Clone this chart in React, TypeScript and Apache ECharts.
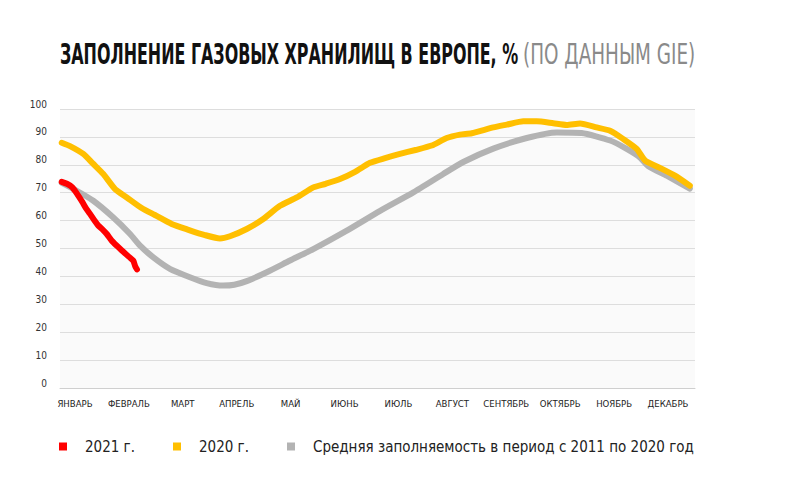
import React, { useEffect, useRef } from "react";
import * as echarts from "echarts";

const months = ["ЯНВАРЬ", "ФЕВРАЛЬ", "МАРТ", "АПРЕЛЬ", "МАЙ", "ИЮНЬ", "ИЮЛЬ", "АВГУСТ", "СЕНТЯБРЬ", "ОКТЯБРЬ", "НОЯБРЬ", "ДЕКАБРЬ"];
const seriesNames = ["2021 г.", "2020 г.", "Средняя заполняемость в период с 2011 по 2020 год"];
const titleMain = "ЗАПОЛНЕНИЕ ГАЗОВЫХ ХРАНИЛИЩ В ЕВРОПЕ, %";
const titleSub = "(ПО ДАННЫМ GIE)";

// [day of year, % filled]
const data2021 = [
  [1, 73.9], [4, 73.2], [7, 72.0], [10, 69.5], [13, 66.6], [15, 64.5], [17.4, 62.4], [20, 60.0],
  [22.2, 58.2], [25, 56.6], [27.1, 55.2], [30, 52.8], [32.9, 51.0], [36, 49.2], [40, 47.0],
  [42.5, 45.6], [43.5, 43.8], [44.6, 42.5],
];
const data2020 = [
  [1, 87.9], [5.8, 86.7], [13.5, 83.9], [19, 80.5], [25.1, 76.7], [31.9, 71.3], [38.7, 68.3],
  [47.3, 64.5], [55, 62.0], [64.7, 58.8], [74.4, 56.7], [84, 54.8], [92.7, 53.6], [98.5, 54.4],
  [108.2, 57.0], [117.8, 60.6], [127.5, 65.3], [137.2, 68.3], [146.8, 71.9], [154, 73.2],
  [162.3, 74.9], [171, 77.5], [179.7, 80.7], [188.4, 82.4], [197, 83.9], [206, 85.3],
  [215.4, 86.9], [224.1, 89.6], [231.8, 90.8], [238.6, 91.3], [251.1, 93.4], [258.9, 94.4],
  [268.5, 95.6], [276.3, 95.6], [285.9, 94.9], [293.6, 94.3], [301.4, 94.8], [311, 93.4],
  [318.8, 92.2], [326.5, 89.2], [334.2, 85.7], [339.1, 81.5], [347.7, 78.9], [356.4, 76.1],
  [365, 72.5],
];
const dataAvg = [
  [1, 73.5], [9.7, 70.7], [19.3, 67.1], [30.9, 61.1], [40.6, 55.2], [46.4, 51.0], [54.1, 46.8],
  [63.7, 42.7], [75.3, 39.7], [85, 37.6], [94.6, 36.7], [101, 37.0], [108.2, 38.3], [119.8, 41.5],
  [133.3, 45.7], [146.8, 49.8], [166.2, 56.4], [185.5, 63.5], [204.8, 70.1], [222.1, 76.7],
  [233.7, 81.0], [251.1, 85.8], [270.5, 89.6], [287.9, 91.6], [302.3, 91.4], [318.8, 88.7],
  [328.4, 85.7], [336.2, 82.6], [341, 79.5], [351.6, 76.1], [365, 71.5],
];

const colors = ["#ff0000", "#ffbf00", "#b3b3b3"];
const FONT = "'Liberation Sans Narrow', 'DejaVu Sans Condensed', sans-serif";

export default function App() {
  const ref = useRef<HTMLDivElement>(null);
  useEffect(() => {
    if (!ref.current) return;
    const chart = echarts.init(ref.current, null, { renderer: "svg" });
    const lineSeries = (name: string, data: number[][], color: string, z: number) => ({
      name,
      type: "line",
      xAxisIndex: 0,
      yAxisIndex: 0,
      data,
      showSymbol: false,
      smooth: 0.2,
      z,
      lineStyle: { color, width: 6, cap: "round", join: "round" },
      itemStyle: { color },
    });
    chart.setOption({
      animation: false,
      backgroundColor: "#ffffff",
      textStyle: { fontFamily: FONT },
      graphic: [
        {
          type: "text",
          x: 60,
          y: 54,
          scaleX: 0.632,
          style: {
            text: titleMain,
            verticalAlign: "middle",
            fontFamily: FONT,
            fontWeight: "bold",
            fontSize: 28,
            fill: "#111111",
          },
        },
        {
          type: "text",
          x: 523,
          y: 54,
          scaleX: 0.73,
          style: {
            text: titleSub,
            verticalAlign: "middle",
            fontFamily: FONT,
            fontWeight: "normal",
            fontSize: 28,
            fill: "#8a8a8a",
          },
        },
      ],
      legend: {
        data: seriesNames,
        left: 54,
        top: 434,
        icon: "rect",
        itemWidth: 8,
        itemHeight: 8,
        itemGap: 38,
        textStyle: { fontFamily: FONT, fontSize: 15, color: "#222", padding: [0, 0, 0, 13] },
      },
      grid: [
        { left: 60, top: 109, width: 635, height: 279, show: true, backgroundColor: "#fafafa", borderWidth: 0 },
        { left: 48, top: 109, width: 647, height: 279, show: false },
      ],
      xAxis: [
        {
          type: "value",
          gridIndex: 0,
          min: 0,
          max: 368,
          axisLabel: { show: false },
          axisTick: { show: false },
          splitLine: { show: false },
          axisLine: { show: true, lineStyle: { color: "#cfcfcf", width: 1 } },
        },
        {
          type: "category",
          gridIndex: 1,
          data: months,
          boundaryGap: true,
          axisLine: { show: false },
          axisTick: { show: false },
          axisLabel: { fontFamily: FONT, fontSize: 9.5, color: "#222", margin: 10, interval: 0 },
        },
      ],
      yAxis: [
        {
          type: "value",
          gridIndex: 0,
          min: 0,
          max: 100,
          interval: 10,
          axisLine: { show: false },
          axisTick: { show: false },
          axisLabel: { fontFamily: FONT, fontSize: 10, color: "#333", margin: 13, verticalAlign: "bottom" },
          splitLine: { lineStyle: { color: "#dddddd", width: 1 } },
        },
        { type: "value", gridIndex: 1, show: false, min: 0, max: 1 },
      ],
      series: [
        lineSeries(seriesNames[2], dataAvg, colors[2], 2),
        lineSeries(seriesNames[1], data2020, colors[1], 3),
        lineSeries(seriesNames[0], data2021, colors[0], 4),
      ],
    });
    return () => chart.dispose();
  }, []);
  return <div ref={ref} style={{ width: 785, height: 481, margin: -8 }} />;
}
